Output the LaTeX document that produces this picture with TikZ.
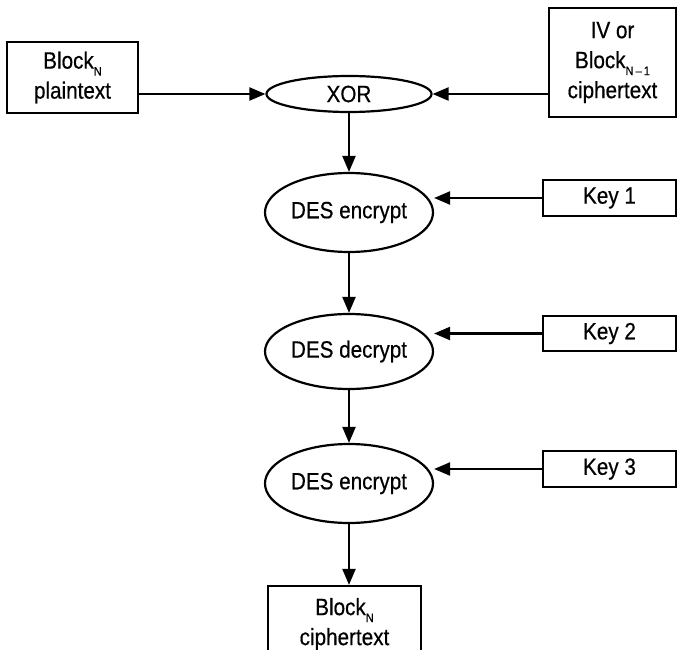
\documentclass[tikz,border=0pt]{standalone}
\usepackage{fontspec}
\setmainfont{Liberation Sans}[FakeStretch=0.88,FakeBold=0.5]
\usetikzlibrary{arrows.meta,shapes.geometric}
\newcommand{\subN}[1]{\raisebox{-0.3em}{\fontsize{12.5}{12.5}\selectfont #1}}
\tikzset{
  every node/.style={font=\fontsize{23.5}{30}\selectfont, align=center, inner sep=0pt, line width=2.2pt},
  boxnode/.style={draw, rectangle},
  opnode/.style={draw, ellipse},
  flow/.style={line width=2.2pt, -{Triangle[length=16pt,width=13pt]}}
}
\begin{document}
\begin{tikzpicture}[x=1pt,y=-1pt]
  \useasboundingbox (0,0) rectangle (677,650);
  % inputs
  \node[boxnode, minimum width=131pt, minimum height=71pt] (pt) at (72.5,77.5) {Block\subN{N}\\plaintext};
  \node[boxnode, minimum width=127pt, minimum height=109pt] (iv) at (612.5,62.5) {IV or\\Block\subN{N\,--\,1}\\ciphertext};
  % operations
  \node[opnode, minimum width=165pt, minimum height=36pt] (xor) at (349,94) {XOR};
  \node[opnode, minimum width=168pt, minimum height=79pt] (e1) at (349,212.5) {DES encrypt};
  \node[opnode, minimum width=168pt, minimum height=75pt] (e2) at (349,351.5) {DES decrypt};
  \node[opnode, minimum width=168pt, minimum height=79pt] (e3) at (349,483.5) {DES encrypt};
  % keys
  \node[boxnode, minimum width=133pt, minimum height=36pt] (k1) at (609.5,198) {Key 1};
  \node[boxnode, minimum width=133pt, minimum height=35pt] (k2) at (609.5,333.5) {Key 2};
  \node[boxnode, minimum width=133pt, minimum height=36pt] (k3) at (609.5,469) {Key 3};
  % output
  \node[boxnode, minimum width=153pt, minimum height=76pt] (ct) at (344.5,624) {Block\subN{N}\\ciphertext};
  % connectors
  \draw[flow] (pt.east |- xor.west) -- (xor.west);
  \draw[flow] (iv.west |- xor.east) -- (xor.east);
  \draw[flow] (xor.south) -- (e1.north);
  \draw[flow] (e1.south) -- (e2.north);
  \draw[flow] (e2.south) -- (e3.north);
  \draw[flow] (e3.south) -- (e3.south |- ct.north);
  \draw[flow] (k1.west) -- (k1.west -| e1.east);
  \draw[flow] (k2.west) -- (k2.west -| e2.east);
  \draw[flow] (k3.west) -- (k3.west -| e3.east);
\end{tikzpicture}
\end{document}
